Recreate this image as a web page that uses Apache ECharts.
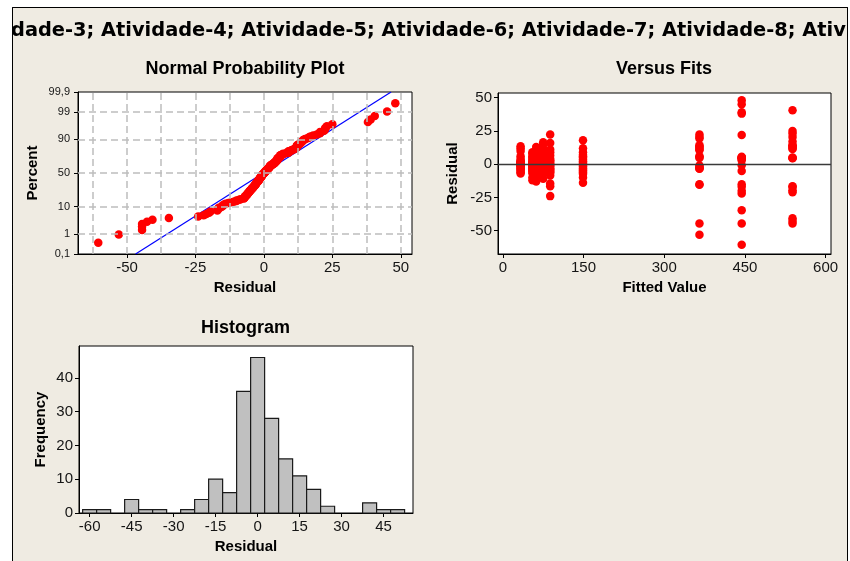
<!DOCTYPE html>
<html>
<head>
<meta charset="utf-8">
<style>
  html, body { margin: 0; padding: 0; background: #ffffff; }
  #chart { width: 850px; height: 561px; }
</style>
<script src="https://cdn.jsdelivr.net/npm/echarts@6/dist/echarts.min.js"></script>
</head>
<body>
<div id="chart"></div>
<script>
// ---------------- DATA ----------------
const mainTitle = 'dade-3; Atividade-4; Atividade-5; Atividade-6; Atividade-7; Atividade-8; Ativi';

// fitted value of each group and its residuals (Versus Fits panel)
const fittedValues = [33, 55, 62, 75, 88, 149, 365.5, 444, 538.5];
const residFit33  = [13.5, 12, 10, 6, 4, 2.3, 2, 1.5, 1, 0.5, 0, -0.5, -1, -1.5, -2, -3, -4, -5, -6, -7];
const residFit55  = [9, 8, 6, 5, 3.5, 2.2, 1.6, 0.8, 0.2, -0.4, -1.2, -1.8, -2.3, -2.8, -3.8, -4.6, -5.5, -6.8, -10, -12];
const residFit62  = [13, 10, 7, 4, 2.4, 1.8, 1.2, 0.6, 0, -0.6, -1.4, -1.9, -2.4, -3.2, -4.2, -5, -6, -7.2, -9, -13];
const residFit75  = [16.5, 15, 12, 9, 6, 3, 2.1, 1.3, 0.4, -0.3, -0.9, -1.6, -2.2, -2.6, -3.5, -4.4, -5.3, -6.2, -7, -11];
const residFit88  = [22.4, 16, 11, 9, 6.5, 4, 3, 1.9, 0.7, -0.8, -1.7, -3, -3.9, -4.8, -5.8, -6.5, -8.5, -14.5, -16.5, -24];
const residFit149 = [18, 12, 9, 7, 6, 5, 3.5, 2.3, 1.1, 0.2, -0.7, -1.5, -2.9, -3.7, -4.5, -5.6, -6.4, -7.3, -10, -14];
const residFit365 = [22.3, 20.5, 19.3, 14.3, 13.5, 12.2, 11.5, 10.5, 6, 5.5, 4.7, -1, -2, -2.7, -3.2, -3.5, -15, -15.5, -44.5, -53];
const residFit444 = [48, 45, 39, 38, 22, 5.5, 5, 5, 4.5, 4, 3, -0.75, -5.2, -15, -17, -20, -22, -34.7, -44.5, -60.5];
const residFit538 = [40.5, 25, 23, 20.5, 17, 14.3, 14, 13, 12.2, 11.5, 5, 4.7, 4.5, -16.5, -17, -19.5, -21, -40.7, -42.7, -44.5];
const residGroups = [residFit33, residFit55, residFit62, residFit75, residFit88, residFit149, residFit365, residFit444, residFit538];

// Histogram (bin centres and frequencies)
const histBinCenters = [-60, -55, -50, -45, -40, -35, -30, -25, -20, -15, -10, -5, 0, 5, 10, 15, 20, 25, 30, 35, 40, 45, 50];
const histCounts     = [1, 1, 0, 4, 1, 1, 0, 1, 4, 10, 6, 36, 46, 28, 16, 11, 7, 2, 0, 0, 3, 1, 1];
const histBinWidth = 5;

// Normal probability plot: fitted normal line parameters and tick labels
const fitMean = -0.2;
const fitSd = 15.1;
const percentTicks = [0.1, 1, 10, 50, 90, 99, 99.9];
const percentTickLabels = ['0,1', '1', '10', '50', '90', '99', '99,9'];
const percentGrid = [1, 10, 50, 90, 99];
const probXTicks = [-50, -25, 0, 25, 50];
const probXGrid = [-62.5, -50, -37.5, -25, -12.5, 0, 12.5, 25, 37.5, 50];
const fitsXTicks = [0, 150, 300, 450, 600];
const fitsYTicks = [-50, -25, 0, 25, 50];
const histXTicks = [-60, -45, -30, -15, 0, 15, 30, 45];
const histYTicks = [0, 10, 20, 30, 40];

// ---------------- HELPERS ----------------
function invNorm(p) {
  const a = [-3.969683028665376e+01, 2.209460984245205e+02, -2.759285104469687e+02, 1.383577518672690e+02, -3.066479806614716e+01, 2.506628277459239e+00];
  const b = [-5.447609879822406e+01, 1.615858368580409e+02, -1.556989798598866e+02, 6.680131188771972e+01, -1.328068155288572e+01];
  const c = [-7.784894002430293e-03, -3.223964580411365e-01, -2.400758277161838e+00, -2.549671348283429e+00, 4.374664141464968e+00, 2.938163982698783e+00];
  const d = [7.784695709041462e-03, 3.224671290700398e-01, 2.445134137142996e+00, 3.754408661907416e+00];
  const pl = 0.02425, ph = 1 - pl;
  let q, r;
  if (p < pl) {
    q = Math.sqrt(-2 * Math.log(p));
    return (((((c[0]*q+c[1])*q+c[2])*q+c[3])*q+c[4])*q+c[5]) / ((((d[0]*q+d[1])*q+d[2])*q+d[3])*q+1);
  }
  if (p <= ph) {
    q = p - 0.5; r = q * q;
    return (((((a[0]*r+a[1])*r+a[2])*r+a[3])*r+a[4])*r+a[5])*q / (((((b[0]*r+b[1])*r+b[2])*r+b[3])*r+b[4])*r+1);
  }
  q = Math.sqrt(-2 * Math.log(1 - p));
  return -(((((c[0]*q+c[1])*q+c[2])*q+c[3])*q+c[4])*q+c[5]) / ((((d[0]*q+d[1])*q+d[2])*q+d[3])*q+1);
}

const FONT = '"Liberation Sans", Arial, sans-serif';
const TXT = '#151515';

// derived data
const allResid = [].concat(...residGroups).sort((x, y) => x - y);
const nObs = allResid.length;
const probData = allResid.map((r, i) => [r, invNorm((i + 1 - 0.3) / (nObs + 0.4))]);
const zMin = invNorm(percentTicks[0] / 100);
const zMax = invNorm(percentTicks[percentTicks.length - 1] / 100);
const zTicks = percentTicks.map(p => invNorm(p / 100));
const fitLine = [[fitMean + fitSd * zMin, zMin], [fitMean + fitSd * zMax, zMax]];
const fitsData = [];
residGroups.forEach((g, gi) => g.forEach(r => fitsData.push([fittedValues[gi], r])));
const histData = histBinCenters.map((c, i) => [c, histCounts[i]]).filter(d => d[1] > 0);

function axisCommon(ticks, labelSize, extra) {
  return Object.assign({
    type: 'value',
    axisLine: { show: true, onZero: false, lineStyle: { color: '#000', width: 1 } },
    axisTick: { show: true, length: 4, customValues: ticks, lineStyle: { color: '#000', width: 1 } },
    axisLabel: { customValues: ticks, color: TXT, fontFamily: FONT, fontSize: labelSize, margin: 6 },
    splitLine: { show: false },
    nameLocation: 'middle',
    nameTextStyle: { fontFamily: FONT, fontWeight: 'bold', fontSize: 15, color: '#000' }
  }, extra);
}

const gridStyle = { show: true, backgroundColor: '#ffffff', borderColor: '#000', borderWidth: 1 };
const chart = echarts.init(document.getElementById('chart'));
const titleFont = 'bold 19.4px "DejaVu Sans"';

const option = {
  animation: false,
  backgroundColor: '#ffffff',
  grid: [
    Object.assign({ left: 78, top: 92, width: 334, height: 162 }, gridStyle),
    Object.assign({ left: 498, top: 93, width: 333, height: 161 }, gridStyle),
    Object.assign({ left: 79, top: 346, width: 334, height: 167 }, gridStyle)
  ],
  xAxis: [
    axisCommon(probXTicks, 15, { gridIndex: 0, min: -67.9, max: 54.1, name: 'Residual', nameGap: 26 }),
    axisCommon(fitsXTicks, 15, { gridIndex: 1, min: -9, max: 610, name: 'Fitted Value', nameGap: 26 }),
    axisCommon(histXTicks, 15, { gridIndex: 2, min: -63.8, max: 55.5, name: 'Residual', nameGap: 26 })
  ],
  yAxis: [
    axisCommon(zTicks, 11, {
      gridIndex: 0, min: zMin, max: zMax, name: 'Percent', nameGap: 38,
      axisLabel: {
        customValues: zTicks, color: TXT, fontFamily: FONT, fontSize: 11, margin: 8,
        formatter: function (v) {
          for (let i = 0; i < zTicks.length; i++) if (Math.abs(zTicks[i] - v) < 1e-6) return percentTickLabels[i];
          return '';
        }
      }
    }),
    axisCommon(fitsYTicks, 15, { gridIndex: 1, min: -67.5, max: 53.5, name: 'Residual', nameGap: 38 }),
    axisCommon(histYTicks, 15, { gridIndex: 2, min: 0, max: 49.4, name: 'Frequency', nameGap: 31 })
  ],
  graphic: [
    { type: 'rect', z: -100, shape: { x: 12.5, y: 7.5, width: 835, height: 600 }, style: { fill: '#EFEBE2', stroke: '#000', lineWidth: 1 } },
    { type: 'text', z: 1, x: 11, y: 30.5, style: { text: mainTitle, font: titleFont, fill: '#000', verticalAlign: 'middle', align: 'left' } },
    { type: 'rect', z: 5, shape: { x: 0, y: 0, width: 12, height: 561 }, style: { fill: '#fff' } },
    { type: 'rect', z: 5, shape: { x: 848, y: 0, width: 2, height: 561 }, style: { fill: '#fff' } },
    { type: 'rect', z: 6, shape: { x: 12.5, y: 7.5, width: 835, height: 600 }, style: { fill: 'none', stroke: '#000', lineWidth: 1 } },
    { type: 'text', z: 1, x: 245, y: 69, style: { text: 'Normal Probability Plot', font: 'bold 18px ' + FONT, fill: '#000', align: 'center', verticalAlign: 'middle' } },
    { type: 'text', z: 1, x: 664, y: 69, style: { text: 'Versus Fits', font: 'bold 18px ' + FONT, fill: '#000', align: 'center', verticalAlign: 'middle' } },
    { type: 'text', z: 1, x: 245.5, y: 328, style: { text: 'Histogram', font: 'bold 18px ' + FONT, fill: '#000', align: 'center', verticalAlign: 'middle' } }
  ],
  series: [
    {
      type: 'line', xAxisIndex: 0, yAxisIndex: 0, data: fitLine, symbol: 'none', z: 2,
      lineStyle: { color: '#0000FF', width: 1.2 },
      markLine: {
        silent: true, symbol: 'none', label: { show: false },
        lineStyle: { color: '#BDBDBD', width: 1.5, type: [7, 4] },
        data: probXGrid.map(v => ({ xAxis: v })).concat(percentGrid.map(p => ({ yAxis: invNorm(p / 100) })))
      }
    },
    {
      type: 'scatter', xAxisIndex: 0, yAxisIndex: 0, data: probData, symbol: 'circle', symbolSize: 8.5, z: 4,
      itemStyle: { color: '#FF0000', opacity: 1 }
    },
    {
      type: 'scatter', xAxisIndex: 1, yAxisIndex: 1, data: fitsData, symbol: 'circle', symbolSize: 8.5, z: 4,
      itemStyle: { color: '#FF0000', opacity: 1 },
      markLine: {
        silent: true, symbol: 'none', label: { show: false },
        lineStyle: { color: '#3a3a3a', width: 1.3, type: 'solid' },
        data: [{ yAxis: 0 }]
      }
    },
    {
      type: 'custom', xAxisIndex: 2, yAxisIndex: 2, data: histData,
      renderItem: function (params, api) {
        const x = api.value(0), y = api.value(1);
        const p0 = api.coord([x - histBinWidth / 2, y]);
        const p1 = api.coord([x + histBinWidth / 2, 0]);
        return {
          type: 'rect',
          shape: { x: p0[0], y: p0[1], width: p1[0] - p0[0], height: p1[1] - p0[1] },
          style: { fill: '#C0C0C0', stroke: '#1a1a1a', lineWidth: 1.2 }
        };
      }
    }
  ]
};
chart.setOption(option);
</script>
</body>
</html>
